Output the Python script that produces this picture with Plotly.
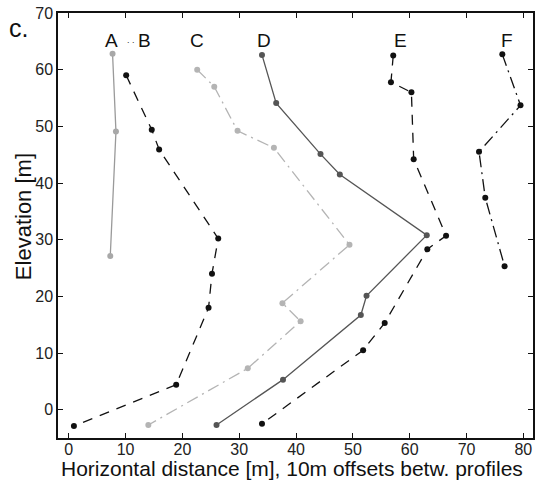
import plotly.graph_objects as go

# Profile coordinates: horizontal distance [m] and elevation [m]
a_x = [7.7, 8.3, 7.3]
a_y = [62.8, 49.1, 27.1]

b_x = [10.1, 14.6, 15.9, 26.3, 25.2, 24.6, 18.9, 0.9]
b_y = [59.0, 49.4, 45.9, 30.2, 24.0, 18.0, 4.4, -2.9]

c_x = [22.6, 25.6, 29.7, 36.1, 49.4, 37.6, 40.8, 31.5, 14.0]
c_y = [60.0, 57.0, 49.2, 46.2, 29.1, 18.8, 15.6, 7.3, -2.7]

d_x = [34.0, 36.5, 44.3, 47.7, 63.0, 52.4, 51.4, 37.7, 26.0]
d_y = [62.6, 54.1, 45.1, 41.5, 30.8, 20.1, 16.7, 5.3, -2.7]

e_x = [57.1, 56.7, 60.3, 60.7, 66.4, 63.1, 55.6, 51.8, 34.0]
e_y = [62.5, 57.8, 56.0, 44.2, 30.7, 28.3, 15.3, 10.5, -2.5]

f_x = [76.3, 79.5, 72.2, 73.3, 76.7]
f_y = [62.7, 53.7, 45.5, 37.4, 25.3]

profile_names = ["A", "B", "C", "D", "E", "F"]
name_x = [7.6, 13.4, 22.5, 34.4, 58.4, 77.1]
name_y = 65.2

x_ticks = [0, 10, 20, 30, 40, 50, 60, 70, 80]
y_ticks = [0, 10, 20, 30, 40, 50, 60, 70]

series = [
    (a_x, a_y, "#9a9a9a", "#a8a8a8", "solid"),
    (b_x, b_y, "#111111", "#111111", "10px,8px"),
    (c_x, c_y, "#b4b4b4", "#b4b4b4", "12px,5px,2px,5px"),
    (d_x, d_y, "#555555", "#555555", "solid"),
    (e_x, e_y, "#111111", "#111111", "10px,8px"),
    (f_x, f_y, "#111111", "#111111", "12px,5px,2px,5px"),
]

fig = go.Figure()
for xs, ys, lc, mc, dash in series:
    fig.add_trace(go.Scatter(
        x=xs, y=ys, mode="lines+markers",
        line=dict(color=lc, width=1.3, dash=dash),
        marker=dict(color=mc, size=6),
        showlegend=False, hoverinfo="skip",
    ))

font_family = "Liberation Sans, Arial, sans-serif"

W, H = 535, 481
L, R, T, B = 58, 0, 13, 43
pw, ph = W - L - R, H - T - B


def px_to_paper(px, py):
    return (px - L) / pw, (H - B - py) / ph


annotations = []
for name, nx in zip(profile_names, name_x):
    annotations.append(dict(x=nx, y=name_y, xref="x", yref="y", text=name,
                            showarrow=False, yanchor="middle",
                            font=dict(size=19, color="#111111", family=font_family)))
annotations.append(dict(x=11.0, y=name_y, xref="x", yref="y", text=". .",
                        showarrow=False, yanchor="middle",
                        font=dict(size=9, color="#333333", family=font_family)))

cx, cy = px_to_paper(18, 28)
annotations.append(dict(x=cx, y=cy, xref="paper", yref="paper", text="c.",
                        showarrow=False, xanchor="center", yanchor="middle",
                        font=dict(size=25, color="#111111", family=font_family)))
tx, ty = px_to_paper(293, 468)
annotations.append(dict(x=tx, y=ty, xref="paper", yref="paper",
                        text="Horizontal distance [m], 10m offsets betw. profiles",
                        showarrow=False, xanchor="center", yanchor="middle",
                        borderpad=0,
                        font=dict(size=21, color="#111111", family=font_family)))
ex, ey = px_to_paper(23, 217)
annotations.append(dict(x=ex, y=ey, xref="paper", yref="paper",
                        text="Elevation [m]", textangle=-90,
                        showarrow=False, xanchor="center", yanchor="middle",
                        font=dict(size=22, color="#111111", family=font_family)))

axis_common = dict(
    showgrid=False, zeroline=False, showline=True, linecolor="#111111",
    linewidth=1.5, mirror="allticks", ticks="inside", ticklen=5,
    tickwidth=1, tickcolor="#111111",
    tickfont=dict(size=16, color="#222222", family=font_family),
)

fig.update_layout(
    width=W, height=H,
    margin=dict(l=L, r=R, t=T, b=B),
    paper_bgcolor="white", plot_bgcolor="white",
    xaxis=dict(range=[-1.9, 81.7], tickvals=x_ticks, ticklabelstandoff=-4,
               **axis_common),
    yaxis=dict(range=[-5, 70], tickvals=y_ticks, **axis_common),
    annotations=annotations,
)

fig.write_html("out.html")
